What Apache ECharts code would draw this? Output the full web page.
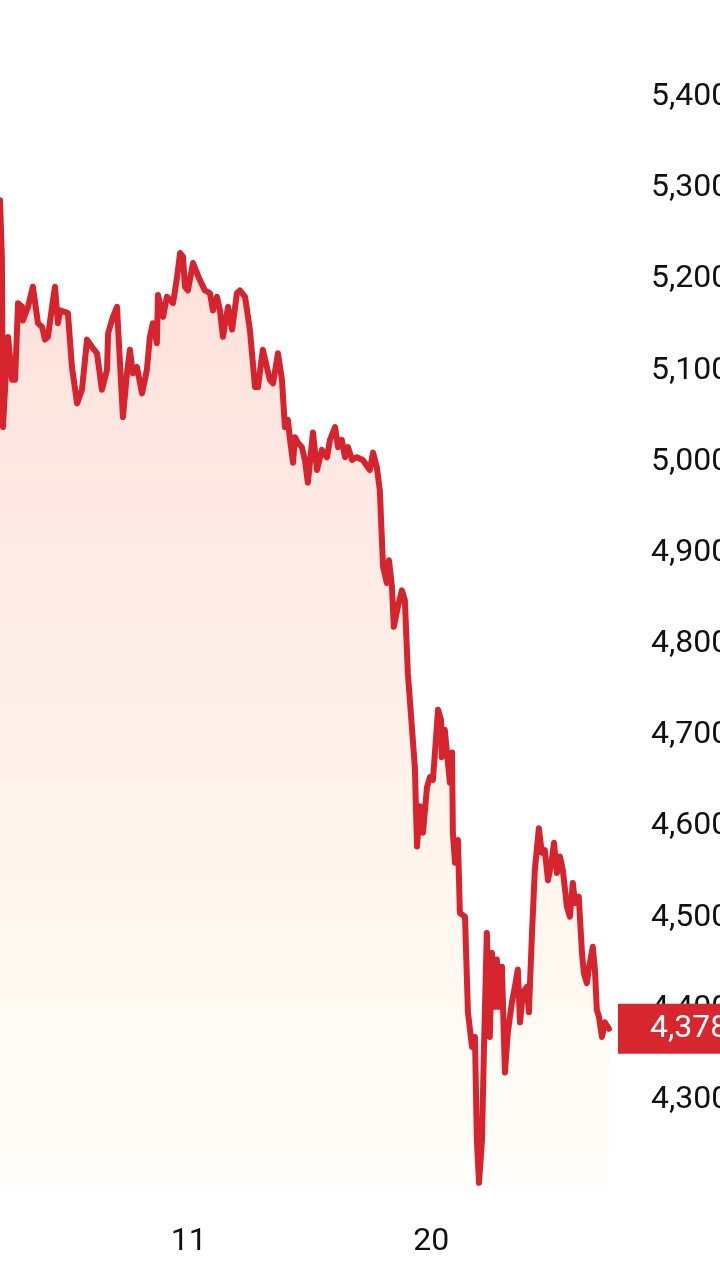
<!DOCTYPE html>
<html>
<head>
<meta charset="utf-8">
<script src="https://cdn.jsdelivr.net/npm/echarts@6/dist/echarts.min.js"></script>
<style>
html,body{margin:0;padding:0;background:#fff;}
#chart{width:720px;height:1280px;}
</style>
</head>
<body>
<div id="chart"></div>
<script>
// time in days of month (fractional), price values
const days = [4.00,4.07,4.11,4.19,4.30,4.45,4.56,4.67,4.82,4.85,5.04,5.22,5.41,5.56,5.67,5.78,5.93,6.04,6.15,6.23,
6.52,6.67,6.86,7.04,7.23,7.41,7.60,7.78,7.97,8.01,8.19,8.34,8.56,8.71,8.82,8.93,9.08,9.27,9.45,9.56,
9.67,9.82,9.86,10.05,10.19,10.42,10.57,10.68,10.79,10.86,10.97,11.16,11.31,11.42,11.60,11.79,11.90,12.05,12.16,12.27,
12.46,12.61,12.79,12.90,13.09,13.27,13.46,13.57,13.75,14.01,14.13,14.31,14.46,14.57,14.68,14.76,14.87,14.94,15.05,15.20,
15.31,15.42,15.61,15.76,15.94,16.13,16.24,16.43,16.54,16.68,16.80,16.91,17.06,17.24,17.46,17.72,17.84,17.98,18.09,18.21,
18.35,18.43,18.54,18.61,18.76,18.91,19.02,19.13,19.28,19.39,19.47,19.58,19.69,19.84,19.95,20.06,20.17,20.25,20.36,20.39,
20.50,20.58,20.69,20.77,20.80,20.88,20.99,21.06,21.25,21.36,21.51,21.62,21.69,21.77,21.88,21.95,22.06,22.17,22.25,22.36,
22.43,22.51,22.62,22.73,22.84,22.99,23.10,23.21,23.29,23.40,23.55,23.62,23.73,23.84,23.99,24.10,24.21,24.33,24.47,24.55,
24.66,24.77,24.88,25.03,25.14,25.25,25.33,25.47,25.59,25.66,25.77,25.84,25.99,26.07,26.14,26.22,26.33,26.44,26.59];
const prices = [5287,5225,5038,5082,5137,5090,5090,5174,5170,5155,5170,5192,5152,5148,5134,5137,5170,5192,5152,5166,
5163,5104,5064,5079,5134,5126,5119,5079,5101,5141,5159,5170,5049,5097,5123,5097,5104,5075,5101,5137,
5152,5130,5183,5159,5181,5174,5203,5229,5225,5192,5188,5218,5207,5199,5188,5185,5166,5181,5166,5137,
5170,5145,5185,5188,5181,5145,5082,5082,5123,5090,5086,5119,5090,5038,5046,5024,4999,5027,5021,5016,
5002,4977,5032,4991,5013,5005,5024,5038,5016,5024,5005,5016,5002,5005,5002,4991,5010,4994,4969,4885,
4867,4892,4863,4819,4841,4859,4848,4768,4709,4665,4578,4622,4593,4643,4654,4651,4695,4728,4717,4676,
4706,4681,4648,4681,4593,4560,4585,4505,4501,4396,4358,4369,4256,4209,4256,4352,4483,4369,4461,4402,
4454,4402,4446,4330,4374,4407,4424,4443,4385,4418,4424,4396,4479,4552,4598,4571,4574,4541,4563,4582,
4549,4567,4552,4512,4501,4538,4516,4523,4461,4439,4428,4443,4468,4443,4399,4391,4369,4385,4378];
const xTickLabels = [11, 20];
const lastPrice = prices[prices.length - 1];

const chart = echarts.init(document.getElementById('chart'));
const fontFamily = 'Roboto';
const fmt = v => Number(v).toLocaleString('en-US');

chart.setOption({
  animation: false,
  backgroundColor: '#ffffff',
  grid: { left: 0, right: 100, top: 6, bottom: 89, containLabel: false, outerBoundsMode: 'none' },
  xAxis: {
    type: 'value', min: 4, max: 27, interval: 1,
    axisLine: { show: false }, axisTick: { show: false }, splitLine: { show: false },
    axisLabel: {
      margin: 35, fontSize: 32, color: '#111', fontFamily: fontFamily,
      formatter: v => xTickLabels.indexOf(v) >= 0 ? String(v) : ''
    }
  },
  yAxis: {
    type: 'value', position: 'right', min: 4200, max: 5500, interval: 100,
    axisLine: { show: false }, axisTick: { show: false }, splitLine: { show: false },
    axisLabel: {
      margin: 31, fontSize: 32, color: '#111', fontFamily: fontFamily,
      showMinLabel: false, showMaxLabel: false,
      formatter: v => fmt(v)
    }
  },
  series: [{
    type: 'line',
    data: days.map((d, i) => [d, prices[i]]),
    symbol: 'none',
    smooth: false,
    lineStyle: { color: '#d6242e', width: 6, join: 'round', cap: 'round' },
    areaStyle: {
      color: new echarts.graphic.LinearGradient(0, 0, 0, 1, [
        { offset: 0, color: '#fcd0ca' },
        { offset: 0.45, color: '#fde7de' },
        { offset: 0.75, color: '#fff5e9' },
        { offset: 1, color: '#fffdf8' }
      ])
    },
    markLine: {
      silent: true,
      symbol: 'none',
      lineStyle: { color: 'rgba(0,0,0,0)', width: 1, type: 'solid' },
      data: [{ yAxis: lastPrice }],
      label: {
        show: true, position: 'end', distance: -2,
        formatter: p => fmt(p.value),
        backgroundColor: '#d8262f', color: '#ffffff',
        fontSize: 32, lineHeight: 32, fontFamily: fontFamily,
        padding: [9, 40, 9, 32], align: 'left', verticalAlign: 'middle'
      }
    }
  }]
});
</script>
</body>
</html>
